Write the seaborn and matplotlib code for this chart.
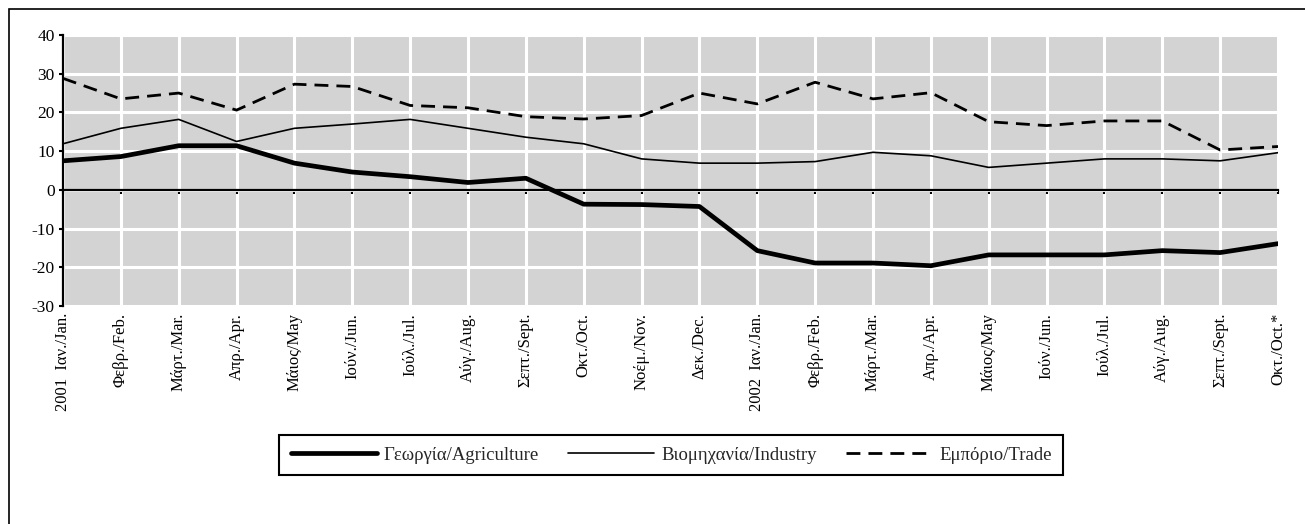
"""Greek business-confidence style chart: Agriculture / Industry / Trade, monthly 2001-2002."""
import matplotlib
matplotlib.use("Agg")
import matplotlib.pyplot as plt
import matplotlib.patches as mpatches
import numpy as np
import pandas as pd
import seaborn as sns

# ── Data ──────────────────────────────────────────────────────────────────────
MONTHS = [
    "2001  Ιαν./Jan.", "Φεβρ./Feb.", "Μάρτ./Mar.", "Απρ./Apr.", "Μάιος/May",
    "Ιούν./Jun.", "Ιούλ./Jul.", "Αύγ./Aug.", "Σεπτ./Sept.", "Οκτ./Oct.",
    "Νοέμ./Nov.", "Δεκ./Dec.", "2002  Ιαν./Jan.", "Φεβρ./Feb.", "Μάρτ./Mar.",
    "Απρ./Apr.", "Μάιος/May", "Ιούν./Jun.", "Ιούλ./Jul.", "Αύγ./Aug.",
    "Σεπτ./Sept.", "Οκτ./Oct.*",
]
AGRICULTURE = [7.5, 8.6, 11.4, 11.4, 6.9, 4.6, 3.4, 1.9, 3.0, -3.7, -3.8, -4.3,
               -15.7, -18.9, -18.9, -19.6, -16.8, -16.8, -16.8, -15.7, -16.2, -13.9]
INDUSTRY = [11.9, 15.9, 18.2, 12.5, 15.9, 17.0, 18.2, 15.9, 13.6, 11.9, 8.0, 6.9,
            6.9, 7.3, 9.7, 8.8, 5.8, 6.9, 8.0, 8.0, 7.5, 9.6]
TRADE = [28.8, 23.5, 25.0, 20.6, 27.3, 26.7, 21.8, 21.2, 18.9, 18.3, 19.2, 25.0,
         22.2, 27.8, 23.5, 25.1, 17.6, 16.6, 17.8, 17.8, 10.3, 11.2]
SERIES = {
    "Γεωργία/Agriculture": AGRICULTURE,
    "Βιομηχανία/Industry": INDUSTRY,
    "Εμπόριο/Trade": TRADE,
}
STYLES = {
    "Γεωργία/Agriculture": dict(lw=3.4, ls="-"),
    "Βιομηχανία/Industry": dict(lw=1.2, ls="-"),
    "Εμπόριο/Trade": dict(lw=2.0, ls=(0, (5, 2.9))),
}

sns.set_theme(style="white")
plt.rcParams["font.family"] = ["Liberation Serif", "DejaVu Serif"]
plt.rcParams["axes.unicode_minus"] = False

W, H = 1305, 524
fig = plt.figure(figsize=(W / 100, H / 100), dpi=100)
ax = fig.add_axes([63 / W, 1 - 306 / H, (1278 - 63) / W, (306 - 35) / H])

x = np.arange(len(MONTHS))
for name, vals in SERIES.items():
    df = pd.DataFrame({"idx": x, "value": vals})
    sns.lineplot(data=df, x="idx", y="value", ax=ax, color="black",
                 linewidth=STYLES[name]["lw"], linestyle=STYLES[name]["ls"],
                 label=name, legend=False, zorder=3)

# ── Axes styling ──────────────────────────────────────────────────────────────
ax.set_facecolor("#d3d3d3")
ax.set_xlim(0, len(MONTHS) - 1)
ax.set_ylim(-30, 40)
ax.set_yticks(range(-30, 41, 10))
ax.set_xticks(x)
ax.grid(True, color="white", linewidth=2.2)
ax.set_axisbelow(True)
ax.set_xlabel("")
ax.set_ylabel("")

for side in ("top", "right"):
    ax.spines[side].set_visible(False)
ax.spines["left"].set_color("black")
ax.spines["left"].set_linewidth(1.6)
ax.spines["bottom"].set_position(("data", 0))
ax.spines["bottom"].set_color("black")
ax.spines["bottom"].set_linewidth(1.6)
ax.spines["bottom"].set_zorder(2.5)

ax.tick_params(axis="y", left=True, direction="out", length=3, width=1.5,
               color="black", labelsize=12.5, pad=3, labelcolor="black")
ax.tick_params(axis="x", bottom=True, direction="out", length=3, width=1.5,
               color="black", labelbottom=False)

sec = ax.secondary_xaxis("bottom")
sec.set_xticks(x)
sec.set_xticklabels(MONTHS, rotation=90, va="top", ha="center")
sec.tick_params(length=0, pad=5, labelsize=12, labelcolor="black")
sec.spines["bottom"].set_visible(False)

# ── Legend ────────────────────────────────────────────────────────────────────
handles, labels = ax.get_legend_handles_labels()
leg = fig.legend(handles, labels, loc="center", bbox_to_anchor=(671 / W, 1 - 455 / H),
                 ncol=3, fontsize=13.5, frameon=True, fancybox=False, framealpha=1,
                 edgecolor="black", handlelength=4.6, handletextpad=0.37,
                 columnspacing=1.55, borderpad=0.62, borderaxespad=0)
leg.get_frame().set_linewidth(1.5)

# outer frame (only top and left edges fall inside the image)
fig.add_artist(mpatches.Rectangle((9 / W, -0.1), 1.2, 1 - 9 / H + 0.1,
                                  transform=fig.transFigure, fill=False,
                                  edgecolor="black", linewidth=1.2))

fig.savefig("out.png", dpi=100, facecolor="white")
